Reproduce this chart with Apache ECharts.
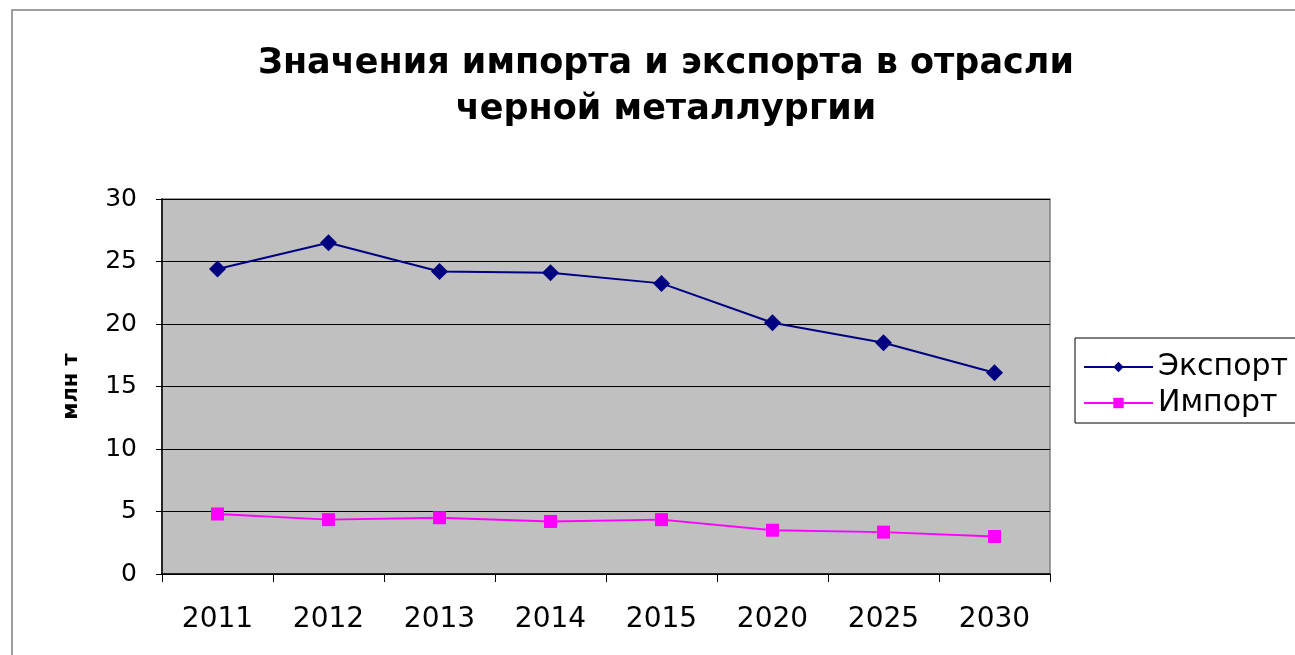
<!DOCTYPE html>
<html>
<head>
<meta charset="utf-8">
<script src="https://cdn.jsdelivr.net/npm/echarts@6/dist/echarts.min.js"></script>
<style>
	html, body { margin: 0; padding: 0; background: #fff; }
	#chart { width: 1295px; height: 655px; }
</style>
</head>
<body>
<div id="chart"></div>
<script>
// данные графика
var years = ['2011', '2012', '2013', '2014', '2015', '2020', '2025', '2030'];
var exportValues = [24.4, 26.5, 24.2, 24.1, 23.25, 20.1, 18.5, 16.1];
var importValues = [4.8, 4.35, 4.5, 4.2, 4.35, 3.5, 3.35, 3.0];
var seriesNames = ['Экспорт', 'Импорт'];

var font = '"DejaVu Sans", "Liberation Sans", Arial, sans-serif';
var chart = echarts.init(document.getElementById('chart'));

chart.setOption({
	backgroundColor: '#fff',
	animation: false,
	title: {
		text: 'Значения импорта и экспорта в отрасли\nчерной металлургии',
		left: 661,
		textAlign: 'center',
		top: 36,
		textStyle: {
			fontFamily: font,
			fontSize: 35,
			fontWeight: 'bold',
			color: '#000',
			lineHeight: 46
		}
	},
	graphic: [{
		type: 'rect',
		shape: { x: 12, y: 10, width: 1320, height: 700 },
		style: { fill: 'none', stroke: '#808080', lineWidth: 1.5 },
		silent: true
	}],
	legend: {
		left: 1075,
		top: 338,
		orient: 'vertical',
		itemWidth: 69,
		itemHeight: 13,
		itemGap: 6,
		padding: [14, 60, 5, 8],
		borderColor: '#000',
		borderWidth: 1,
		backgroundColor: '#fff',
		textStyle: { fontFamily: font, fontSize: 30, color: '#000' },
		data: seriesNames
	},
	grid: {
		left: 162,
		top: 199,
		width: 888,
		height: 375,
		show: true,
		backgroundColor: '#c0c0c0',
		borderColor: '#808080',
		borderWidth: 1.5
	},
	xAxis: {
		type: 'category',
		data: years,
		boundaryGap: true,
		axisLine: { lineStyle: { color: '#000', width: 1.5 } },
		axisTick: { show: true, length: 8, lineStyle: { color: '#000' } },
		axisLabel: { fontFamily: font, fontSize: 28, color: '#000', margin: 32 }
	},
	yAxis: {
		type: 'value',
		min: 0,
		max: 30,
		interval: 5,
		name: 'млн т',
		nameLocation: 'middle',
		nameRotate: 90,
		nameGap: 80,
		nameTextStyle: { fontFamily: font, fontSize: 21, fontWeight: 'bold', color: '#000' },
		axisLine: { show: true, lineStyle: { color: '#000', width: 1.5 } },
		axisTick: { show: true, length: 6, lineStyle: { color: '#000' } },
		axisLabel: { fontFamily: font, fontSize: 25, color: '#000', margin: 25 },
		splitLine: { lineStyle: { color: '#000', width: 1 } }
	},
	series: [{
		name: seriesNames[0],
		type: 'line',
		data: exportValues,
		symbol: 'diamond',
		symbolSize: 17,
		itemStyle: { color: '#000080' },
		lineStyle: { color: '#000080', width: 2 }
	}, {
		name: seriesNames[1],
		type: 'line',
		data: importValues,
		symbol: 'rect',
		symbolSize: 13,
		itemStyle: { color: '#ff00ff' },
		lineStyle: { color: '#ff00ff', width: 2 }
	}]
});
</script>
</body>
</html>
